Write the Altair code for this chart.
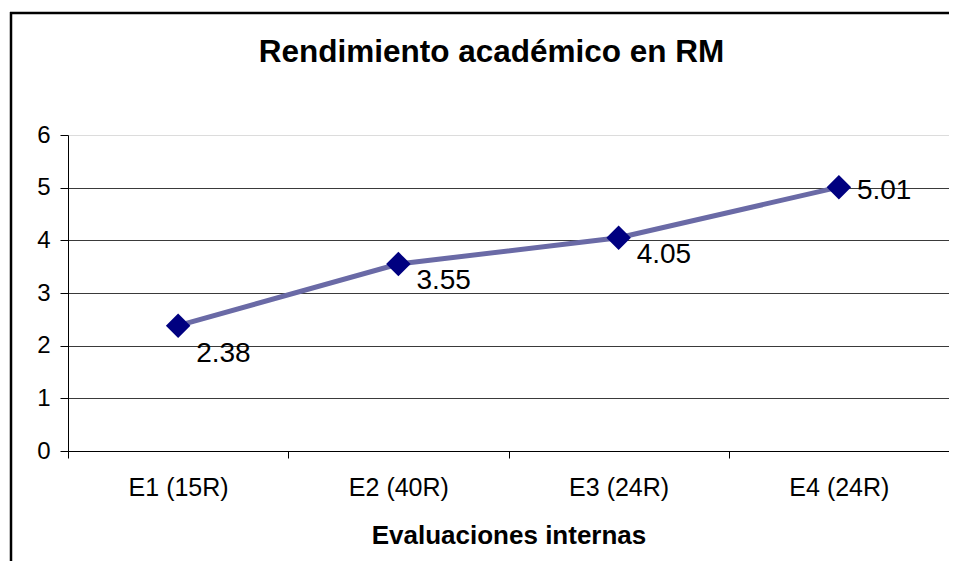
import altair as alt
import pandas as pd

categories = ["E1 (15R)", "E2 (40R)", "E3 (24R)", "E4 (24R)"]
values = [2.38, 3.55, 4.05, 5.01]
labels = ["2.38", "3.55", "4.05", "5.01"]
y_ticks = [0, 1, 2, 3, 4, 5, 6]

df = pd.DataFrame({"cat": categories, "val": values, "lab": labels})

W, H = 881, 316
FONT = "Liberation Sans"

x_enc = alt.X(
    "cat:N",
    sort=categories,
    scale=alt.Scale(type="band", paddingInner=0, paddingOuter=0),
    axis=alt.Axis(
        title="Evaluaciones internas",
        labelAngle=0,
        tickBand="extent",
        tickSize=7,
        tickColor="black",
        domainColor="black",
        labelFont=FONT,
        labelFontSize=25,
        labelColor="black",
        labelPadding=17,
        titleFont=FONT,
        titleFontSize=26,
        titleFontWeight="bold",
        titleColor="black",
        titlePadding=22,
        grid=False,
    ),
)
y_enc = alt.Y(
    "val:Q",
    scale=alt.Scale(domain=[0, 6], nice=False, zero=True),
    axis=alt.Axis(
        values=y_ticks,
        title=None,
        grid=True,
        gridColor={"condition": {"test": "datum.value == 6", "value": "#dcdcdc"}, "value": "#3a3a3a"},
        gridWidth=1,
        domainColor="black",
        tickColor="black",
        tickSize=8,
        labelFont=FONT,
        labelFontSize=24,
        labelColor="black",
        labelPadding=10,
    ),
)

base = alt.Chart(df).encode(x=x_enc, y=y_enc)

line = base.mark_line(color="#6a6aa6", strokeWidth=5)
points = base.mark_point(shape="diamond", filled=True, size=600, color="#000080", opacity=1)

def lbl(cats, dy, baseline="alphabetic"):
    return base.mark_text(
        align="left", baseline=baseline, dx=18, dy=dy, fontSize=28, font=FONT, color="black"
    ).encode(text="lab:N").transform_filter(alt.FieldOneOfPredicate(field="cat", oneOf=cats))

t1 = lbl([categories[0]], 36)
t2 = lbl([categories[1], categories[2]], 25)
t3 = lbl([categories[3]], 12)

frame_df = pd.DataFrame({"o": [0]})
border_top = alt.Chart(frame_df).mark_rule(color="black", strokeWidth=2.5).encode(
    x=alt.value(-58), x2=alt.value(900), y=alt.value(-122)
)
border_left = alt.Chart(frame_df).mark_rule(color="black", strokeWidth=2.5).encode(
    x=alt.value(-57), y=alt.value(-123), y2=alt.value(500)
)

chart = alt.layer(border_top, border_left, line, points, t1, t2, t3).properties(
    width=W,
    height=H,
    padding={"left": 60, "top": 127, "right": 0, "bottom": 110},
    autosize=alt.AutoSizeParams(type="none"),
    title=alt.TitleParams(
        "Rendimiento académico en RM",
        font=FONT,
        fontSize=31.5,
        fontWeight="bold",
        color="black",
        anchor="middle",
        dx=-17,
        offset=-83,
        baseline="alphabetic",
    ),
).configure_view(stroke=None)

chart.save("out.html", embed_options={"renderer": "svg", "actions": False})
